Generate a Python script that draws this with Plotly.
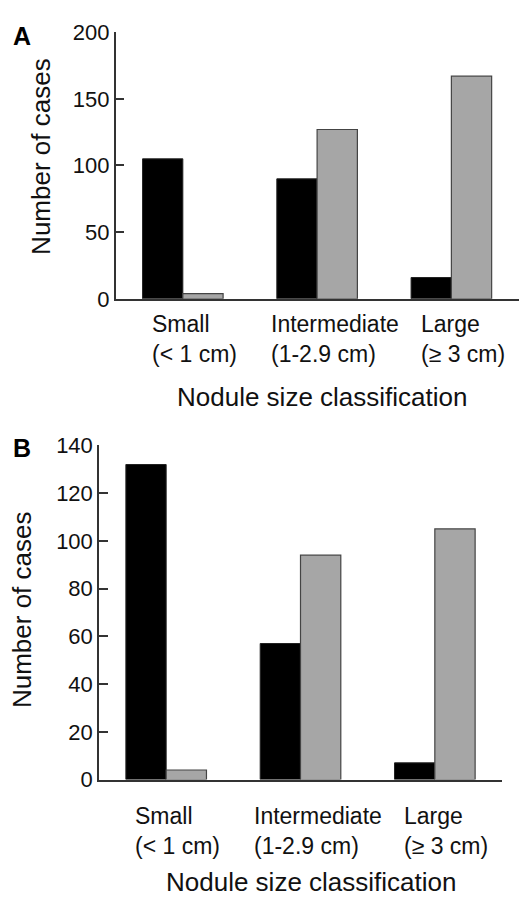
import plotly.graph_objects as go

categories = ["Small", "Intermediate", "Large"]
cat_labels = ["Small<br>(< 1 cm)", "Intermediate<br>(1-2.9 cm)", "Large<br>(≥ 3 cm)"]
a_black = [105, 90, 16]
a_grey = [4, 127, 167]
b_black = [132, 57, 7]
b_grey = [4, 94, 105]
a_yticks = [0, 50, 100, 150, 200]
b_yticks = [0, 20, 40, 60, 80, 100, 120, 140]

W, H = 519, 907
FONT = "Liberation Sans, Arial, Helvetica, sans-serif"

def px_x(p):
    return p / W

def px_y(p):
    return 1 - p / H

xs = [0, 1, 2]
fig = go.Figure()
for xa, ya, blk, gry in [("x", "y", a_black, a_grey), ("x2", "y2", b_black, b_grey)]:
    fig.add_trace(go.Bar(x=xs, y=blk, xaxis=xa, yaxis=ya, name="Group 1",
                         marker=dict(color="#000000", line=dict(color="#222222", width=1)),
                         showlegend=False))
    fig.add_trace(go.Bar(x=xs, y=gry, xaxis=xa, yaxis=ya, name="Group 2",
                         marker=dict(color="#a6a6a6", line=dict(color="#444444", width=1.2)),
                         showlegend=False))

axis_line = dict(showline=True, linecolor="#333333", linewidth=1.5, showgrid=False, zeroline=False)
tickfont = dict(family=FONT, size=22, color="#111111")

fig.update_layout(
    width=W, height=H, margin=dict(l=0, r=0, t=0, b=0),
    paper_bgcolor="white", plot_bgcolor="white",
    barmode="group", bargap=0.4, bargroupgap=0,
    xaxis=dict(domain=[px_x(115.7), px_x(518.5)], range=[-0.5, 2.5], anchor="y",
               showticklabels=False, ticks="", **axis_line),
    yaxis=dict(domain=[px_y(295), px_y(20.7)], range=[0, 200], anchor="x",
               tickvals=a_yticks, ticks="inside", ticklen=9, tickcolor="#333333",
               tickwidth=1.5, tickfont=tickfont, **axis_line),
    xaxis2=dict(domain=[px_x(99), px_x(502)], range=[-0.5, 2.5], anchor="y2",
                showticklabels=False, ticks="", **axis_line),
    yaxis2=dict(domain=[px_y(789.3), px_y(445.7)], range=[0, 140], anchor="x2",
                tickvals=b_yticks, ticks="inside", ticklen=9, tickcolor="#333333",
                tickwidth=1.5, tickfont=tickfont, **axis_line),
)

ann = []
dx = [-0.245, -0.36, -0.243]
for xref, ymid in [("x", 336), ("x2", 842.5)]:
    for i, lab in enumerate(cat_labels):
        ann.append(dict(x=i + dx[i], xref=xref, y=px_y(ymid), yref="paper",
                        text=lab, showarrow=False, xanchor="left", yanchor="middle",
                        align="left", font=dict(family=FONT, size=23, color="#111111")))

title_font = dict(family=FONT, size=26, color="#111111")
ann += [
    dict(x=px_x(321.5), y=px_y(396), xref="paper", yref="paper", text="Nodule size classification",
         showarrow=False, xanchor="center", yanchor="middle", font=title_font),
    dict(x=px_x(311), y=px_y(895), xref="paper", yref="paper", text="Nodule size classification",
         showarrow=False, xanchor="center", yanchor="middle", font=title_font),
    dict(x=px_x(41), y=px_y(149), xref="paper", yref="paper", text="Number of cases",
         textangle=-90, showarrow=False, xanchor="center", yanchor="middle", font=title_font),
    dict(x=px_x(22), y=px_y(615), xref="paper", yref="paper", text="Number of cases",
         textangle=-90, showarrow=False, xanchor="center", yanchor="middle", font=title_font),
    dict(x=px_x(22), y=px_y(25), xref="paper", yref="paper", text="<b>A</b>",
         showarrow=False, xanchor="center", yanchor="middle",
         font=dict(family=FONT, size=25, color="#000000")),
    dict(x=px_x(22), y=px_y(448), xref="paper", yref="paper", text="<b>B</b>",
         showarrow=False, xanchor="center", yanchor="middle",
         font=dict(family=FONT, size=25, color="#000000")),
]
fig.update_layout(annotations=ann)

fig.write_html("out.html", config={"displayModeBar": False},
               post_script="document.body.style.margin='0';document.body.style.overflow='hidden';")
